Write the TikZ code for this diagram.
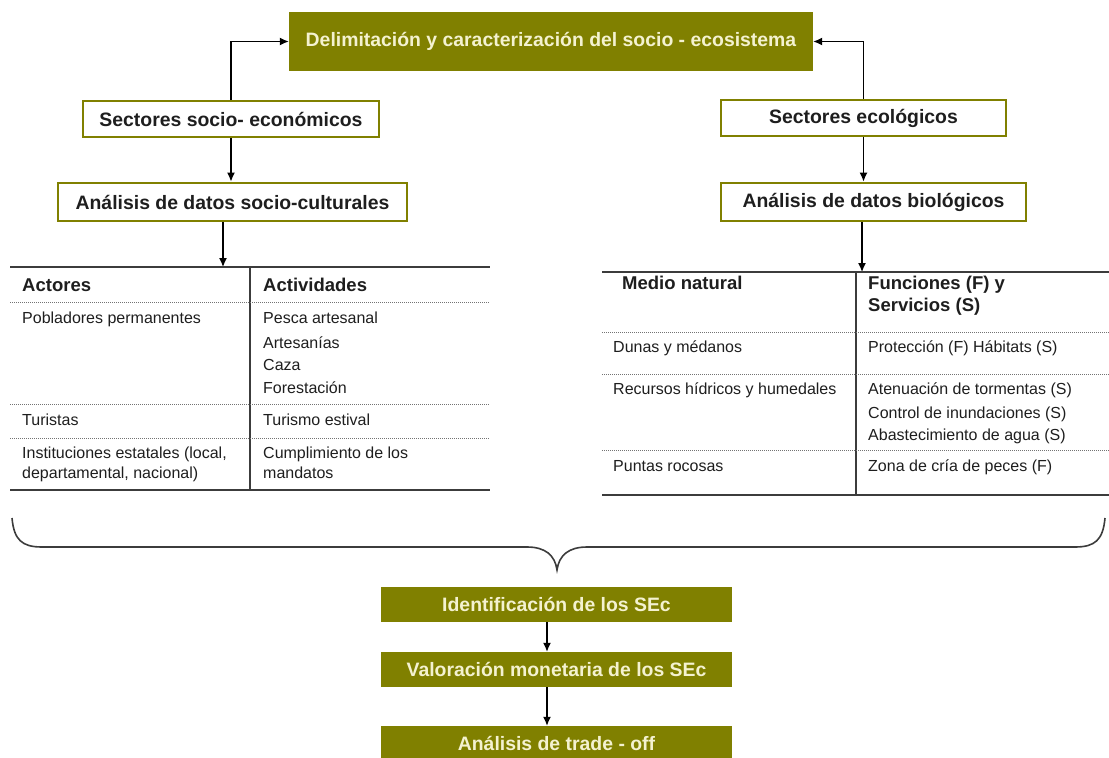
\documentclass[tikz,border=0pt]{standalone}
\usepackage{fontspec}
\setmainfont{Liberation Sans}
\usetikzlibrary{arrows.meta}
\definecolor{olivebox}{RGB}{128,128,0}
\definecolor{creamtext}{RGB}{244,242,208}
\definecolor{rulegray}{RGB}{60,60,60}
\definecolor{inkdark}{RGB}{30,30,30}

\begin{document}
\begin{tikzpicture}[x=1pt, y=-1pt]
        \tikzset{darkbox/.style={fill=olivebox, text=creamtext, inner sep=0pt,
                                 font=\fontsize{19.4}{23}\bfseries},
                 lightbox/.style={draw=olivebox, line width=2.8pt, fill=white,
                                  text=inkdark, inner sep=0pt,
                                  font=\fontsize{19.4}{23}\bfseries},
                 arrow/.style={line width=1.3pt, -{Latex[length=9pt,width=8pt]}},
                 tabrule/.style={rulegray, line width=1.8pt},
                 tabdots/.style={gray!90!black, line width=1pt, dash pattern=on 1pt off 1pt},
                 cell/.style={anchor=west, inner sep=0pt, text=inkdark,
                              text height=11.5pt, text depth=0pt,
                              font=\fontsize{16}{19}\selectfont},
                 headcell/.style={cell, text height=13.2pt,
                                  font=\fontsize{18.5}{22}\bfseries}}

        \useasboundingbox (0,0) rectangle (1109,758);

        \node[darkbox, minimum width=524pt, minimum height=59pt] (delim)
             at (551,41.5) {Delimitación y caracterización del socio - ecosistema};
        \node[lightbox, minimum width=296pt, minimum height=36pt] (secsoc)
             at (231,119) {Sectores socio- económicos};
        \node[lightbox, minimum width=285pt, minimum height=36pt] (sececol)
             at (863.5,118) {Sectores ecológicos};
        \node[lightbox, minimum width=349pt, minimum height=38pt] (analsoc)
             at (232.5,202) {Análisis de datos socio-culturales};
        \node[lightbox, minimum width=305pt, minimum height=38pt] (analbio)
             at (873.5,202) {Análisis de datos biológicos};

        \draw[arrow] (secsoc.north) |- (delim.west);
        \draw[arrow] (sececol.north) |- (delim.east);
        \draw[arrow] (secsoc.south) -- (secsoc.south |- analsoc.north);
        \draw[arrow] (sececol.south) -- (sececol.south |- analbio.north);

        \coordinate (socin) at (223,267);
        \coordinate (bioin) at (862,272);
        \draw[arrow] (analsoc.south -| socin) -- (socin);
        \draw[arrow] (analbio.south -| bioin) -- (bioin);

        \draw[tabrule] (10,267) -- (490,267);
        \draw[tabrule] (10,490) -- (490,490);
        \draw[tabrule] (250,267) -- (250,490);
        \draw[tabdots] (10,302) -- (490,302);
        \draw[tabdots] (10,404) -- (490,404);
        \draw[tabdots] (10,438) -- (490,438);

        \node[headcell] (hact) at (22,285) {Actores};
        \node[headcell] (hactiv) at (263,285) {Actividades};
        \node[cell] (pob) at (22,318) {Pobladores permanentes};
        \node[cell] (pesca) at (263,318) {Pesca artesanal};
        \node[cell] (artes) at (263,343) {Artesanías};
        \node[cell] (caza) at (263,365) {Caza};
        \node[cell] (forest) at (263,388) {Forestación};
        \node[cell] (tur) at (22,420) {Turistas};
        \node[cell] (turest) at (263,420) {Turismo estival};
        \node[cell] (inst) at (22,453) {Instituciones estatales (local,};
        \node[cell] (instb) at (22,473) {departamental, nacional)};
        \node[cell] (cumpl) at (263,453) {Cumplimiento de los};
        \node[cell] (cumplb) at (263,473) {mandatos};

        \draw[tabrule] (602,272) -- (1109,272);
        \draw[tabrule] (602,495) -- (1109,495);
        \draw[tabrule] (856,272) -- (856,495);
        \draw[tabdots] (602,332) -- (1109,332);
        \draw[tabdots] (602,374) -- (1109,374);
        \draw[tabdots] (602,450) -- (1109,450);

        \node[headcell] (hmedio) at (622,283) {Medio natural};
        \node[headcell] (hfunc) at (868,283) {Funciones (F) y};
        \node[headcell] (hserv) at (868,305) {Servicios (S)};
        \node[cell] (dunas) at (613,347) {Dunas y médanos};
        \node[cell] (prot) at (868,347) {Protección (F) Hábitats (S)};
        \node[cell] (recur) at (613,389) {Recursos hídricos y humedales};
        \node[cell] (aten) at (868,389) {Atenuación de tormentas (S)};
        \node[cell] (contr) at (868,413) {Control de inundaciones (S)};
        \node[cell] (abast) at (868,435) {Abastecimiento de agua (S)};
        \node[cell] (puntas) at (613,466) {Puntas rocosas};
        \node[cell] (zona) at (868,466) {Zona de cría de peces (F)};

        \draw[rulegray, line width=1.6pt] (12,518)
              .. controls (14,540) and (22,547) .. (42,547)
              -- (527,547)
              .. controls (545,547) and (555,555) .. (557,570)
              .. controls (559,555) and (569,547) .. (587,547)
              -- (1075,547)
              .. controls (1095,547) and (1103,540) .. (1105,518);

        \node[darkbox, minimum width=351pt, minimum height=35pt] (ident)
             at (556.5,604.5) {Identificación de los SEc};
        \node[darkbox, minimum width=351pt, minimum height=35pt] (valor)
             at (556.5,669.5) {Valoración monetaria de los SEc};
        \node[darkbox, minimum width=351pt, minimum height=34pt] (trade)
             at (556.5,743) {Análisis de trade - off};

        \draw[arrow] ([xshift=-9.5pt]ident.south) -- ([xshift=-9.5pt]valor.north);
        \draw[arrow] ([xshift=-9.5pt]valor.south) -- ([xshift=-9.5pt]trade.north);
\end{tikzpicture}
\end{document}
